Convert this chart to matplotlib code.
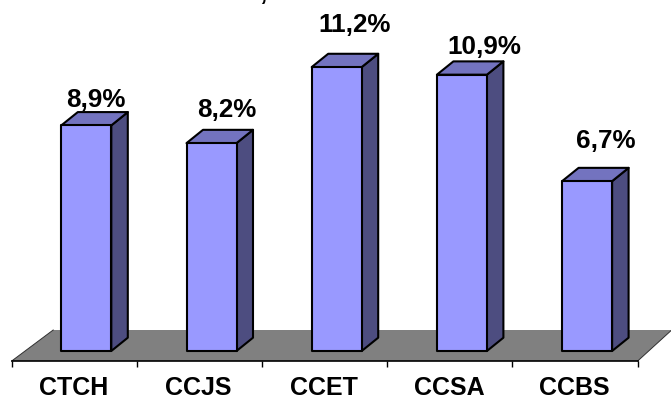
import matplotlib
matplotlib.use('Agg')
import matplotlib.pyplot as plt
from matplotlib.patches import Polygon

# Dados do grafico
categorias = ['CTCH', 'CCJS', 'CCET', 'CCSA', 'CCBS']
valores = [8.9, 8.2, 11.2, 10.9, 6.7]
rotulos = ['8,9%', '8,2%', '11,2%', '10,9%', '6,7%']

plt.rcParams['font.family'] = ['Liberation Sans', 'DejaVu Sans']

LARGURA, ALTURA = 671, 400
PX_X = 125.2   # pixels por categoria
PX_Y = 25.35   # pixels por ponto percentual
BASE_Y = 351   # linha do zero em pixels, a partir do topo
EIXO_X = 11.7  # primeiro tick em pixels

fig = plt.figure(figsize=(LARGURA / 100, ALTURA / 100), dpi=100)
ax = fig.add_axes([EIXO_X / LARGURA, (ALTURA - BASE_Y) / ALTURA,
                   5 * PX_X / LARGURA, BASE_Y / ALTURA])
ax.set_xlim(-0.5, 4.5)
ax.set_ylim(0, BASE_Y / PX_Y)
ax.patch.set_visible(False)

# profundidade da perspectiva, convertida para unidades de dados
dx = 16.5 / PX_X
dy = 13.3 / PX_Y
largura_barra = 50 / PX_X
desloc = 12.0 / PX_X  # barra fica a direita do centro da categoria

# piso cinza
piso_y = -10 / PX_Y
fundo_y = 21 / PX_Y
piso = Polygon([(-0.5, piso_y), (4.5, piso_y), (4.5 + 34 / PX_X, fundo_y),
                (-0.5 + 41.5 / PX_X, fundo_y)],
               facecolor='#808080', edgecolor='none', clip_on=False, zorder=1)
ax.add_patch(piso)
ax.plot([-0.5, -0.5 + 41.5 / PX_X], [piso_y, fundo_y], color='#303030', lw=0.7, clip_on=False, zorder=1.5)
ax.plot([4.5, 4.5 + 34 / PX_X], [piso_y, fundo_y], color='#303030', lw=0.7, clip_on=False, zorder=1.5)

# barras 3D: frente, topo e lateral
for i, v in enumerate(valores):
    x0 = i - largura_barra / 2 + desloc
    x1 = x0 + largura_barra
    estilo = dict(edgecolor='black', linewidth=1.5, joinstyle='round', clip_on=False, zorder=3)
    ax.add_patch(Polygon([(x1, 0), (x1 + dx, dy), (x1 + dx, v + dy), (x1, v)],
                         facecolor='#4D4D80', **estilo))
    ax.add_patch(Polygon([(x0, v), (x1, v), (x1 + dx, v + dy), (x0 + dx, v + dy)],
                         facecolor='#7373BF', **estilo))
    ax.add_patch(Polygon([(x0, 0), (x1, 0), (x1, v), (x0, v)],
                         facecolor='#9999FF', **estilo))

# rotulos de valor
deslocs_rotulo = [(10, 25), (15, 33), (18, 42), (22, 28), (19, 40)]
for i, v in enumerate(valores):
    ax.annotate(rotulos[i], (i + desloc, v), xytext=deslocs_rotulo[i], textcoords='offset pixels',
                ha='center', va='center', fontsize=18.7, fontweight='bold', color='black',
                annotation_clip=False, zorder=4)

# eixo x na frente do piso
for lado in ['top', 'right', 'left']:
    ax.spines[lado].set_visible(False)
ax.spines['bottom'].set_position(('data', piso_y))
ax.spines['bottom'].set_linewidth(1.2)
ax.spines['bottom'].set_zorder(2)
ax.set_yticks([])
ax.set_xticks([i - 0.5 for i in range(6)])
ax.set_xticklabels([])
ax.tick_params(axis='x', which='major', length=4.5, width=1, direction='out')
for i, nome in enumerate(categorias):
    ax.annotate(nome, (i, piso_y), xytext=(-1, -27), textcoords='offset pixels',
                ha='center', va='center', fontsize=18, fontweight='bold',
                annotation_clip=False)

# titulo cortado pela borda superior
fig.text(263 / LARGURA, 1.0, ',', fontsize=18.7, fontweight='bold',
         ha='center', va='baseline')

fig.savefig('out.png', dpi=100)
